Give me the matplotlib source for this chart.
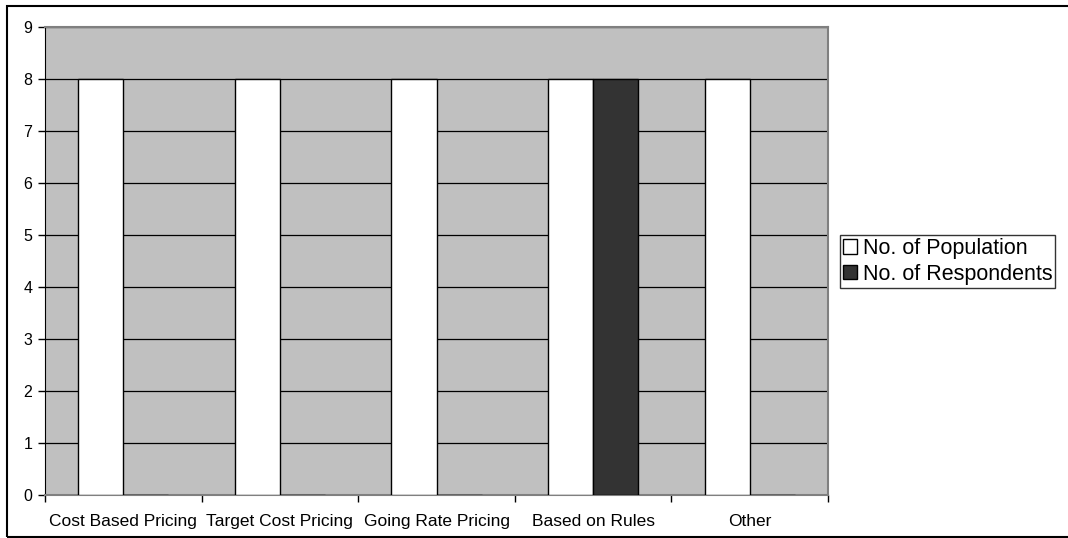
import numpy as np
import matplotlib
matplotlib.use('Agg')
from matplotlib import pyplot as plt
from matplotlib.patches import Rectangle

plt.rcParams['font.family'] = ['Liberation Sans', 'DejaVu Sans']

categories  = ['Cost Based Pricing', 'Target Cost Pricing', 'Going Rate Pricing', 'Based on Rules', 'Other']
population  = [8, 8, 8, 8, 8]
respondents = [0, 0, 0, 8, 0]
series_names = ['No. of Population', 'No. of Respondents']

fig = plt.figure(figsize=(10.68, 5.38), dpi=100)
ax  = fig.add_axes([45/1068, 43/538, 783/1068, 468/538])    # plot area in pixels
ax.set_facecolor('#C0C0C0')

x = np.arange(len(categories))
w = 0.2875
ax.bar(x - w/2, population, w, color='white', edgecolor='black', linewidth=1, label=series_names[0], zorder=3)
ax.bar(x + w/2, respondents, w, color='#333333', edgecolor='black', linewidth=1, label=series_names[1], zorder=3)

ax.set_xlim(-0.5, len(categories) - 0.5)
ax.set_ylim(0, 9)
ax.set_yticks(range(0, 10))
ax.yaxis.grid(True, color='black', linewidth=0.9, zorder=1)
ax.set_axisbelow(True)

# ticks at the category boundaries, labels at the centres
ax.set_xticks(np.arange(-0.5, len(categories), 1.0))
ax.set_xticklabels([])
ax.set_xticks(x, minor=True)
ax.set_xticklabels(categories, minor=True, fontsize=12.5)
ax.tick_params(axis='x', which='minor', length=0, pad=14)
ax.tick_params(axis='x', which='major', length=5, width=1, direction='out')
ax.tick_params(axis='y', length=5, width=1, labelsize=11.5, pad=4)

for s in ['top', 'right']:
    ax.spines[s].set_color('#808080')
    ax.spines[s].set_linewidth(1.5)
ax.spines['left'].set_color('black')
ax.spines['bottom'].set_color('#808080')
ax.spines['bottom'].set_linewidth(1.5)

leg = fig.legend(loc='upper left', bbox_to_anchor=(840/1068, (538-235)/538), bbox_transform=fig.transFigure,
                 fontsize=15.5, frameon=True, fancybox=False, borderaxespad=0, borderpad=0.15,
                 handlelength=0.65, handleheight=0.65, handletextpad=0.25, labelspacing=0.2)
leg.get_frame().set_edgecolor('black')
leg.get_frame().set_linewidth(1)

# outer chart border
fig.patches.append(Rectangle((7/1068, 1/538), 1.2, 531/538, transform=fig.transFigure,
                             fill=False, edgecolor='black', linewidth=1.5))

plt.savefig('out.png', dpi=100)
